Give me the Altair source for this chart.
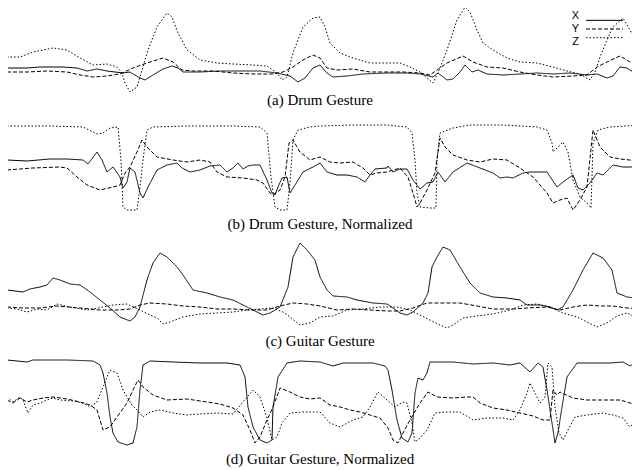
import altair as alt
import pandas as pd

SERIES = ["X", "Y", "Z"]
CAPTIONS = [
    "(a) Drum Gesture",
    "(b) Drum Gesture, Normalized",
    "(c) Guitar Gesture",
    "(d) Guitar Gesture, Normalized",
]

# Readings (t = sample position, v = signal reading; larger v is lower on the trace)
A_X = [(7,68),(27,68),(40,67),(63,67),(77,68),(87,71),(97,69),(107,71),(115,72),(123,73),(130,72),(138,77),(145,80),(153,75),(163,69),(172,66),(178,68),(183,72),(200,72),(220,71),(240,71),(260,71),(277,73),(290,76),(298,82),(305,78),(313,68),(320,65),(327,73),(333,77),(347,76),(363,74),(387,73),(407,73),(420,74),(433,77),(438,73),(447,80),(453,79),(460,72),(465,65),(472,72),(478,70),(487,74),(503,75),(520,74),(537,73),(553,74),(570,73),(587,75),(597,74),(607,78),(613,76),(620,67),(627,68),(633,72),(640,73)]
A_Y = [(7,72),(27,72),(47,71),(67,72),(80,75),(93,77),(107,76),(120,74),(133,68),(147,63),(163,58),(173,62),(182,70),(193,71),(213,71),(233,73),(253,74),(273,74),(283,72),(293,67),(303,60),(313,55),(320,58),(327,68),(337,70),(353,69),(370,72),(387,72),(403,72),(420,73),(430,75),(437,70),(447,63),(463,56),(473,62),(487,67),(503,68),(520,72),(537,75),(553,77),(573,76),(587,75),(597,67),(607,62),(620,56),(630,62),(640,68)]
A_Z = [(7,57),(20,57),(33,52),(53,48),(67,50),(80,58),(93,65),(107,64),(117,67),(122,73),(125,83),(130,92),(137,87),(142,70),(148,50),(157,27),(167,13),(172,17),(178,33),(187,50),(200,60),(217,63),(233,64),(253,65),(267,66),(277,73),(282,80),(287,77),(293,53),(303,27),(313,18),(320,17),(325,27),(330,43),(340,53),(353,58),(370,63),(387,63),(400,63),(410,67),(420,72),(427,78),(433,83),(438,73),(447,50),(457,20),(465,7),(470,12),(477,30),(483,43),(493,50),(507,58),(520,62),(537,63),(553,67),(567,71),(580,74),(590,80),(595,72),(600,57),(607,40),(613,27),(623,18),(630,30),(640,47)]

B_X = [(7,160),(27,161),(50,159),(67,159),(83,160),(88,164),(97,152),(102,160),(107,172),(113,167),(120,177),(123,188),(127,182),(130,168),(135,172),(140,193),(143,198),(148,187),(157,170),(167,165),(177,163),(182,168),(190,172),(200,170),(210,166),(220,165),(227,172),(233,168),(238,163),(243,169),(248,166),(253,165),(260,165),(267,180),(272,193),(275,195),(278,187),(282,178),(287,177),(290,193),(295,185),(303,172),(313,167),(320,163),(327,172),(337,175),(347,175),(357,177),(365,182),(370,175),(375,169),(387,168),(388,166),(393,172),(400,169),(407,169),(413,180),(420,189),(427,183),(433,182),(438,172),(445,182),(453,172),(467,163),(480,168),(493,173),(500,178),(507,177),(513,178),(523,173),(530,172),(547,172),(557,187),(563,182),(573,175),(578,188),(583,190),(590,183),(597,173),(603,175),(613,165),(623,167),(633,167),(640,170)]
B_Y = [(7,170),(33,168),(60,167),(67,168),(77,177),(87,185),(100,190),(113,187),(120,185),(125,173),(130,167),(137,152),(142,140),(147,147),(157,157),(173,160),(187,162),(200,160),(210,162),(217,172),(227,177),(243,178),(257,180),(263,183),(270,193),(273,195),(280,190),(285,177),(289,143),(293,140),(300,152),(310,160),(320,157),(330,162),(340,163),(353,162),(363,168),(370,175),(377,173),(387,172),(400,168),(408,177),(413,193),(417,207),(420,203),(427,190),(435,173),(440,138),(445,147),(453,155),(467,160),(480,162),(493,159),(507,160),(520,168),(533,177),(547,193),(553,203),(560,200),(567,198),(573,210),(580,200),(587,187),(593,130),(600,147),(610,157),(620,159),(630,160),(640,163)]
B_Z = [(7,126),(50,126),(83,127),(97,134),(103,133),(110,128),(118,127),(121,160),(123,207),(127,210),(137,210),(140,187),(143,160),(147,130),(153,127),(187,126),(233,126),(260,127),(267,133),(271,177),(275,207),(280,210),(287,210),(290,183),(293,140),(298,130),(310,127),(320,126),(353,125),(387,125),(407,127),(412,133),(415,160),(417,193),(420,207),(430,208),(436,208),(437,160),(440,133),(453,128),(470,125),(503,125),(537,127),(547,130),(552,143),(553,152),(558,147),(563,142),(568,152),(573,180),(580,197),(587,203),(591,208),(592,177),(593,143),(598,130),(610,127),(640,125)]

C_X = [(7,290),(23,292),(30,289),(40,287),(47,285),(53,278),(60,280),(70,284),(80,285),(90,292),(100,300),(110,308),(120,317),(130,321),(135,317),(140,307),(147,280),(153,263),(160,253),(167,257),(177,267),(183,275),(193,290),(207,293),(220,297),(233,300),(243,305),(257,312),(263,315),(270,313),(280,307),(288,287),(293,257),(300,243),(307,250),(315,260),(320,277),(327,290),(333,296),(347,297),(357,300),(373,303),(387,304),(393,308),(400,313),(407,315),(413,312),(423,303),(428,293),(432,267),(437,257),(443,247),(450,250),(460,267),(470,283),(480,293),(493,297),(507,298),(520,300),(527,305),(540,305),(550,307),(557,310),(563,307),(573,290),(583,270),(593,253),(603,258),(612,270),(617,293),(627,297),(635,298),(640,302)]
C_Y = [(7,307),(23,308),(40,308),(57,306),(80,308),(100,310),(117,310),(130,309),(140,305),(150,303),(167,304),(183,306),(200,307),(217,309),(233,309),(250,310),(267,310),(280,306),(293,303),(307,304),(320,306),(337,310),(353,309),(370,310),(387,311),(400,311),(413,308),(427,303),(443,303),(460,303),(477,306),(493,309),(513,309),(527,308),(547,307),(560,310),(573,307),(587,305),(600,306),(613,306),(627,308),(640,309)]
C_Z = [(7,308),(17,309),(27,312),(37,309),(47,310),(57,304),(70,307),(87,310),(103,307),(113,305),(127,304),(140,310),(150,315),(157,318),(163,324),(170,322),(183,317),(200,314),(217,313),(233,312),(247,310),(260,309),(273,308),(283,312),(290,317),(300,325),(310,323),(320,317),(333,316),(347,310),(363,309),(380,307),(397,307),(410,310),(420,315),(430,320),(440,325),(447,328),(453,325),(463,318),(477,316),(493,314),(510,310),(523,305),(537,304),(550,307),(563,313),(577,317),(587,322),(597,327),(607,323),(617,316),(627,313),(633,316),(640,310)]

D_X = [(7,360),(27,362),(33,360),(67,360),(93,361),(100,365),(103,373),(107,393),(110,417),(113,433),(118,442),(127,445),(133,443),(137,427),(140,390),(143,365),(150,361),(173,362),(200,363),(227,363),(240,365),(245,377),(248,407),(253,427),(260,440),(267,443),(272,440),(273,407),(278,377),(287,363),(300,361),(320,362),(333,366),(343,363),(357,363),(373,363),(385,366),(388,370),(392,390),(397,420),(402,438),(408,442),(412,433),(415,393),(418,378),(423,380),(427,373),(430,362),(453,362),(473,364),(493,363),(510,365),(520,363),(530,372),(538,363),(543,367),(547,390),(552,423),(555,443),(558,433),(562,407),(567,377),(577,363),(593,363),(610,363),(623,362),(630,366),(635,363),(640,362)]
D_Y = [(7,400),(13,403),(20,398),(27,402),(33,400),(43,398),(53,397),(67,399),(80,402),(90,405),(97,410),(100,420),(103,430),(110,427),(117,417),(127,403),(133,390),(138,380),(143,387),(153,395),(167,400),(187,399),(207,402),(220,404),(233,408),(243,415),(250,430),(255,443),(260,437),(267,420),(273,407),(280,388),(290,392),(300,397),(310,399),(320,398),(330,405),(340,407),(350,410),(360,412),(370,415),(380,418),(388,428),(393,440),(398,443),(403,433),(410,420),(420,403),(428,392),(437,397),(453,398),(467,397),(473,397),(480,403),(493,408),(507,410),(520,413),(533,416),(543,420),(550,420),(553,390),(557,395),(560,392),(573,398),(587,400),(603,400),(620,400),(630,403),(640,405)]
D_Z = [(7,397),(13,402),(20,397),(23,400),(28,413),(33,405),(40,403),(47,400),(53,398),(60,400),(73,401),(83,403),(90,407),(97,402),(103,387),(110,370),(117,373),(123,390),(132,405),(137,410),(143,417),(150,412),(160,410),(173,413),(187,415),(200,414),(217,413),(233,414),(243,402),(253,390),(260,397),(267,418),(272,440),(277,437),(282,423),(290,413),(303,412),(320,412),(330,423),(340,427),(353,420),(363,417),(370,407),(378,392),(387,400),(395,407),(403,402),(407,403),(412,423),(415,442),(420,438),(427,430),(435,413),(447,412),(460,412),(473,420),(487,418),(503,418),(513,420),(520,410),(527,393),(530,383),(535,393),(540,403),(545,397),(548,363),(552,367),(555,407),(559,433),(563,440),(568,430),(575,417),(587,415),(603,413),(613,415),(623,418),(630,427),(637,420),(640,413)]

# (series, y domain [bottom, top], caption offset)
PANELS = [
    ([A_X, A_Y, A_Z], [93, 8], 0),
    ([B_X, B_Y, B_Z], [212, 118], 5),
    ([C_X, C_Y, C_Z], [328, 242], 6),
    ([D_X, D_Y, D_Z], [447, 359], 5),
]

T_DOMAIN = [8, 632]
DASHES = [[1, 0], [4, 2], [1.5, 2]]
DASH_SCALE = alt.Scale(domain=SERIES, range=DASHES)


def caption_title(text, offset):
    return alt.TitleParams(
        text, orient="bottom", anchor="middle", offset=offset,
        font="Liberation Serif", fontSize=15, fontWeight="normal", color="black",
    )


def make_panel(series_lists, dom, offset, caption):
    rows = []
    for name, pts in zip(SERIES, series_lists):
        for t, v in pts:
            rows.append({"t": t, "v": v, "axis": name})
    df = pd.DataFrame(rows)
    height = abs(dom[0] - dom[1])
    return (
        alt.Chart(df)
        .mark_line(color="black", strokeWidth=1, clip=True)
        .encode(
            x=alt.X("t:Q", axis=None, scale=alt.Scale(domain=T_DOMAIN, nice=False, zero=False)),
            y=alt.Y("v:Q", axis=None, scale=alt.Scale(domain=dom, nice=False, zero=False)),
            strokeDash=alt.StrokeDash("axis:N", scale=DASH_SCALE, legend=None),
        )
        .properties(width=624, height=height, title=caption_title(caption, offset))
    )


# manual legend (label left of line sample) for panel (a)
legend_df = pd.DataFrame({"axis": SERIES})
legend_y = alt.Y("axis:N", axis=None,
                 scale=alt.Scale(domain=SERIES, range=[8, 34], padding=0))
legend_text = (
    alt.Chart(legend_df)
    .mark_text(align="right", baseline="middle", font="Liberation Sans",
               fontSize=11, color="black")
    .encode(x=alt.value(571), y=legend_y, text="axis:N")
)
legend_rule = (
    alt.Chart(legend_df)
    .mark_rule(color="black", strokeWidth=1)
    .encode(x=alt.value(578), x2=alt.value(615), y=legend_y,
            strokeDash=alt.StrokeDash("axis:N", scale=DASH_SCALE, legend=None))
)

panels = [make_panel(s, dom, off, cap) for (s, dom, off), cap in zip(PANELS, CAPTIONS)]
panels[0] = (
    alt.layer(panels[0], legend_rule, legend_text)
    .resolve_scale(y="independent")
    .properties(title=caption_title(CAPTIONS[0], PANELS[0][2]))
)

chart = (
    alt.vconcat(*panels, spacing=10)
    .resolve_scale(y="independent")
    .properties(padding=0, background="white")
    .configure_view(stroke=None)
)

chart.save("out.html", embed_options={"renderer": "svg", "actions": False})
